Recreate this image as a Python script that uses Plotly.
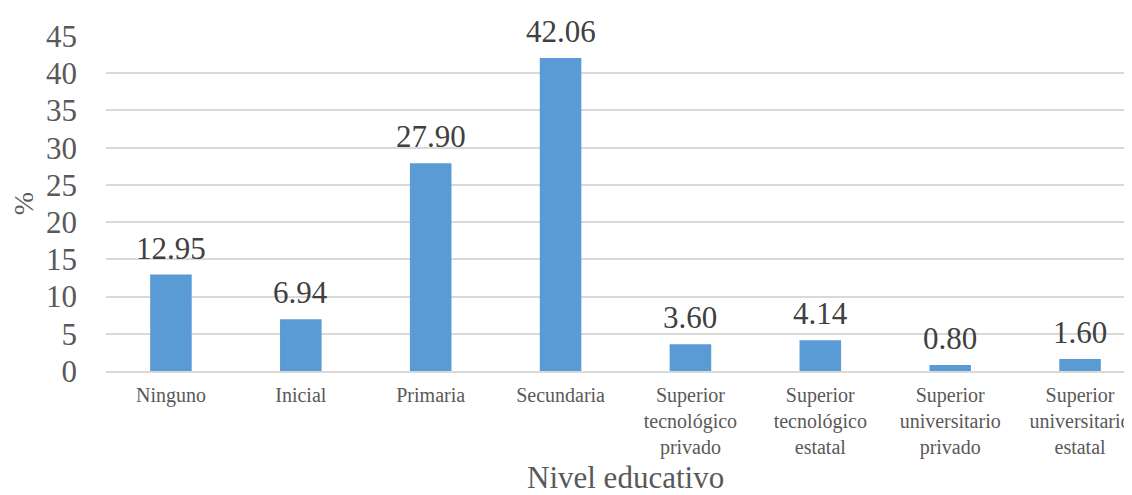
import plotly.graph_objects as go

categorias = [
    "Ninguno",
    "Inicial",
    "Primaria",
    "Secundaria",
    "Superior<br>tecnológico<br>privado",
    "Superior<br>tecnológico<br>estatal",
    "Superior<br>universitario<br>privado",
    "Superior<br>universitario<br>estatal",
]
porcentajes = [12.95, 6.94, 27.90, 42.06, 3.60, 4.14, 0.80, 1.60]

gris = "#595959"
serif = "Liberation Serif"
posiciones = list(range(len(categorias)))

fig = go.Figure()
fig.add_trace(
    go.Bar(
        x=posiciones,
        y=porcentajes,
        width=0.32,
        marker=dict(color="#5B9BD5", line=dict(width=0)),
    )
)

# etiquetas de datos sobre cada barra
for xi, v in zip(posiciones, porcentajes):
    fig.add_annotation(
        x=xi,
        y=v,
        xref="x",
        yref="y",
        text=f"{v:.2f}",
        showarrow=False,
        yanchor="bottom",
        yshift=7,
        font=dict(family=serif, size=31, color="#404040"),
    )

# la página deja 8 px de margen en el body: se compensa aquí
fig.update_layout(
    width=1124,
    height=487,
    margin=dict(l=98, r=0, t=28, b=124),
    plot_bgcolor="white",
    paper_bgcolor="white",
    showlegend=False,
    font=dict(family=serif, color=gris),
)
fig.update_xaxes(
    tickmode="array",
    tickvals=posiciones,
    ticktext=categorias,
    range=[-0.5, 7.4],
    tickfont=dict(family=serif, size=20, color=gris),
    ticklabeloverflow="allow",
    showline=True,
    linecolor="#D9D9D9",
    linewidth=2,
    ticks="",
    ticklabelstandoff=5,
    automargin=False,
)
fig.update_yaxes(
    range=[0, 45],
    dtick=5,
    tickfont=dict(family=serif, size=31, color=gris),
    showgrid=True,
    gridcolor="#D9D9D9",
    gridwidth=1.5,
    zeroline=False,
    ticklabelstandoff=28,
    automargin=False,
    title=dict(text="%", font=dict(family=serif, size=28, color=gris), standoff=13),
)
fig.add_annotation(
    x=3.5,
    xref="x",
    y=0,
    yref="paper",
    yshift=-106,
    text="Nivel educativo",
    showarrow=False,
    font=dict(family=serif, size=31, color=gris),
    yanchor="middle",
)

fig.write_html("out.html")
